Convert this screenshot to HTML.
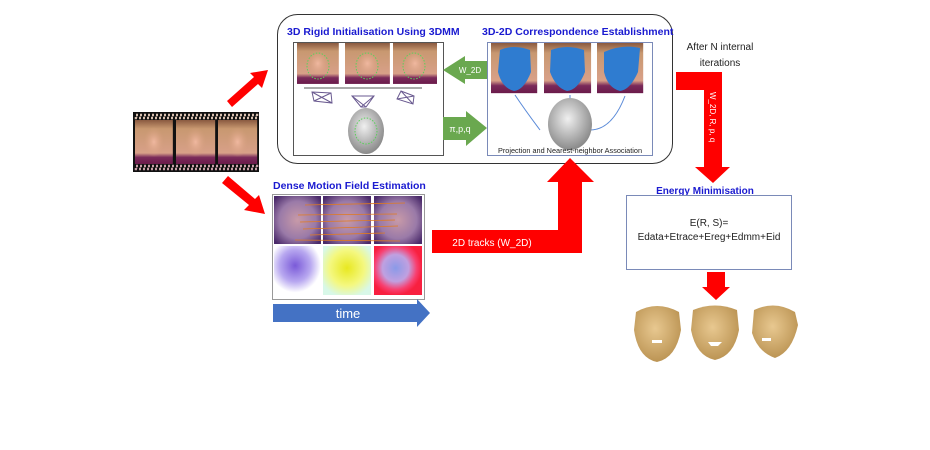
<!DOCTYPE html>
<html><head><meta charset="utf-8"><style>
html,body{margin:0;padding:0;background:#fff;}
svg{display:block;font-family:"Liberation Sans",sans-serif;}
</style></head><body>
<svg width="930" height="450" viewBox="0 0 930 450" xmlns="http://www.w3.org/2000/svg">
<defs>
<linearGradient id="photo" x1="0" y1="0" x2="0" y2="1"><stop offset="0" stop-color="#8a5a40"/><stop offset="0.2" stop-color="#c89870"/><stop offset="0.75" stop-color="#d8a088"/><stop offset="0.85" stop-color="#7a2a5a"/><stop offset="1" stop-color="#6a1a4a"/></linearGradient>
<radialGradient id="skin" cx="50%" cy="50%" r="50%"><stop offset="0" stop-color="#f0b8a0"/><stop offset="1" stop-color="#d8a080" stop-opacity="0"/></radialGradient>
<radialGradient id="pface" cx="50%" cy="50%" r="65%"><stop offset="0" stop-color="#c89aa8"/><stop offset="0.6" stop-color="#9a7aa8"/><stop offset="1" stop-color="#4a2a6a"/></radialGradient>
<radialGradient id="gray" cx="45%" cy="40%" r="60%"><stop offset="0" stop-color="#f0f0f0"/><stop offset="1" stop-color="#8a8a8a"/></radialGradient>
<radialGradient id="tan" cx="45%" cy="40%" r="65%"><stop offset="0" stop-color="#e8c890"/><stop offset="1" stop-color="#b8904f"/></radialGradient>
<radialGradient id="m1" cx="45%" cy="40%" r="55%"><stop offset="0" stop-color="#7a5ad8"/><stop offset="0.6" stop-color="#b8a8f0"/><stop offset="1" stop-color="#fff"/></radialGradient>
<radialGradient id="m2" cx="50%" cy="45%" r="60%"><stop offset="0" stop-color="#e8e820"/><stop offset="0.6" stop-color="#f4f880"/><stop offset="1" stop-color="#d8f8e8"/></radialGradient>
<radialGradient id="m3" cx="45%" cy="45%" r="55%"><stop offset="0" stop-color="#8a9ae8"/><stop offset="0.5" stop-color="#c0a0e0"/><stop offset="0.8" stop-color="#f84070"/><stop offset="1" stop-color="#f82040"/></radialGradient>
<g id="ph"><rect width="44" height="44" fill="url(#photo)"/><ellipse cx="22" cy="22" rx="12" ry="15" fill="url(#skin)"/></g>
</defs>

<rect x="277.5" y="14.5" width="395" height="149" rx="20" fill="#fff" stroke="#333" stroke-width="1"/>
<text x="287" y="35" font-size="10.5" font-weight="bold" fill="#1a1ad0">3D Rigid Initialisation Using 3DMM</text>
<text x="482" y="35" font-size="10.5" font-weight="bold" fill="#1a1ad0">3D-2D Correspondence Establishment</text>

<rect x="293.5" y="42.5" width="150" height="113" fill="#fff" stroke="#555"/>
<use href="#ph" transform="translate(297,43) scale(0.95,0.93)"/>
<use href="#ph" transform="translate(345,43) scale(1.02,0.93)"/>
<use href="#ph" transform="translate(393,43) scale(1,0.93)"/>
<g fill="none" stroke="#5ad05a" stroke-width="1" stroke-dasharray="1.5 1.5">
<ellipse cx="318" cy="66" rx="11" ry="13"/><ellipse cx="367" cy="66" rx="11" ry="13"/><ellipse cx="414" cy="66" rx="11" ry="13"/>
</g>
<line x1="304" y1="88" x2="422" y2="88" stroke="#aaa" stroke-width="2"/>
<g fill="none" stroke="#6a5a90" stroke-width="1">
<path d="M312 92 L331 93 L332 103 L314 101 Z M312 92 L332 103 M331 93 L314 101"/>
<path d="M352 96 L374 96 L366 107 L361 107 Z M352 96 L366 107 M374 96 L361 107"/>
<path d="M397 99 L401 91 L414 96 L413 104 Z M397 99 L414 96 M401 91 L413 104"/>
</g>
<ellipse cx="366" cy="131" rx="18" ry="23" fill="url(#gray)"/>
<ellipse cx="366" cy="131" rx="11" ry="13" fill="none" stroke="#5ad05a" stroke-dasharray="1.5 1.5"/>

<rect x="487.5" y="42.5" width="165" height="113" fill="#fff" stroke="#7a8ab8"/>
<use href="#ph" transform="translate(491,43) scale(1.05,1.14)"/>
<use href="#ph" transform="translate(544,43) scale(1.07,1.14)"/>
<use href="#ph" transform="translate(597,43) scale(1.05,1.14)"/>
<g fill="#2f7cd0">
<path d="M500 50 Q514 44 530 50 L531 72 Q524 90 514 91 Q502 88 498 72 Z"/>
<path d="M551 50 Q567 44 584 50 L585 72 Q578 90 567 91 Q556 88 550 72 Z"/>
<path d="M604 52 Q622 44 640 48 L638 72 Q630 90 620 91 Q608 88 604 72 Z"/>
</g>
<g fill="none" stroke="#5a8ad8" stroke-width="1">
<path d="M540 130 Q525 110 515 95"/><path d="M570 100 L570 95"/><path d="M590 130 Q612 130 625 96"/>
</g>
<ellipse cx="570" cy="124" rx="22" ry="26" fill="url(#gray)"/>
<text x="570" y="153" font-size="7.3" fill="#222" text-anchor="middle">Projection and Nearest-neighbor Association</text>

<path d="M487 61 L465 61 L465 56 L443 70 L465 84 L465 79 L487 79 Z" fill="#6aa84f"/>
<text x="470" y="73" font-size="8" fill="#fff" text-anchor="middle">W_2D</text>
<path d="M443 117 L466 117 L466 111 L487 128 L466 146 L466 140 L443 140 Z" fill="#6aa84f"/>
<text x="460" y="132" font-size="9" fill="#fff" text-anchor="middle">π,p,q</text>

<rect x="133" y="112" width="126" height="60" fill="#111"/>
<use href="#ph" transform="translate(135,120) scale(0.86,1)"/>
<use href="#ph" transform="translate(176,120) scale(0.89,1)"/>
<use href="#ph" transform="translate(218,120) scale(0.89,1)"/>
<rect x="136" y="115" width="121" height="3" fill="none" stroke="#d8c0b0" stroke-width="2.5" stroke-dasharray="2 2"/>
<rect x="136" y="166" width="121" height="3" fill="none" stroke="#c8a0a8" stroke-width="2.5" stroke-dasharray="2 2"/>

<path d="M227 101 L254 77 L250 73 L268 70 L262 88 L258 84 L232 107 Z" fill="#f00"/>
<path d="M222 183 L249 205 L244 210 L265 214 L259 195 L255 199 L228 176 Z" fill="#f00"/>

<text x="273" y="189" font-size="10.5" font-weight="bold" fill="#1a1ad0">Dense Motion Field Estimation</text>
<rect x="272.5" y="194.5" width="152" height="105" fill="#fff" stroke="#999"/>
<rect x="274" y="196" width="47" height="48" fill="url(#pface)"/>
<rect x="323" y="196" width="48" height="48" fill="url(#pface)"/>
<rect x="374" y="196" width="48" height="48" fill="url(#pface)"/>
<g stroke="#e07a20" stroke-width="0.8">
<line x1="305" y1="205" x2="405" y2="203"/><line x1="298" y1="215" x2="397" y2="214"/><line x1="300" y1="222" x2="395" y2="220"/>
<line x1="303" y1="229" x2="398" y2="226"/><line x1="295" y1="240" x2="400" y2="241"/><line x1="310" y1="235" x2="385" y2="233"/>
</g>
<rect x="274" y="246" width="47" height="49" fill="url(#m1)"/>
<rect x="323" y="246" width="48" height="49" fill="url(#m2)"/>
<rect x="374" y="246" width="48" height="49" fill="url(#m3)"/>

<path d="M273 304 L417 304 L417 299 L430 313 L417 327 L417 322 L273 322 Z" fill="#4472c4"/>
<text x="348" y="318" font-size="13" fill="#fff" text-anchor="middle">time</text>

<path d="M432 230 L558 230 L558 182 L547 182 L570 158 L594 182 L582 182 L582 253 L432 253 Z" fill="#f00"/>
<text x="492" y="246" font-size="10" fill="#fff" text-anchor="middle">2D tracks (W_2D)</text>

<text x="720" y="50" font-size="10" fill="#222" text-anchor="middle">After N internal</text>
<text x="720" y="66" font-size="10" fill="#222" text-anchor="middle">iterations</text>
<path d="M676 72 L722 72 L722 167 L730 167 L713 183 L695 167 L704 167 L704 90 L676 90 Z" fill="#f00"/>
<text x="0" y="0" font-size="8" fill="#fff" transform="translate(710,92) rotate(90)">W_2D, R, p, q</text>

<text x="705" y="194" font-size="10" font-weight="bold" fill="#1a1ad0" text-anchor="middle">Energy Minimisation</text>
<rect x="626.5" y="195.5" width="165" height="74" fill="#fff" stroke="#7a8ab8"/>
<text x="709" y="226" font-size="10" fill="#222" text-anchor="middle">E(R, S)=</text>
<text x="709" y="240" font-size="10" fill="#222" text-anchor="middle">Edata+Etrace+Ereg+Edmm+Eid</text>
<path d="M707 272 L725 272 L725 287 L730 287 L716 300 L702 287 L707 287 Z" fill="#f00"/>

<path d="M636 312 Q657 300 679 312 L681 330 Q676 358 657 362 Q638 358 634 330 Z" fill="url(#tan)"/>
<rect x="652" y="340" width="10" height="3" fill="#fff"/>
<path d="M693 310 Q715 301 737 310 L739 330 Q734 356 715 360 Q696 356 691 330 Z" fill="url(#tan)"/>
<path d="M708 342 L722 342 L718 346 L711 346 Z" fill="#fff"/>
<path d="M754 310 Q775 300 795 312 L798 325 Q792 352 775 358 Q758 352 752 333 Z" fill="url(#tan)"/>
<rect x="762" y="338" width="9" height="3" fill="#fff"/>
</svg>
</body></html>
